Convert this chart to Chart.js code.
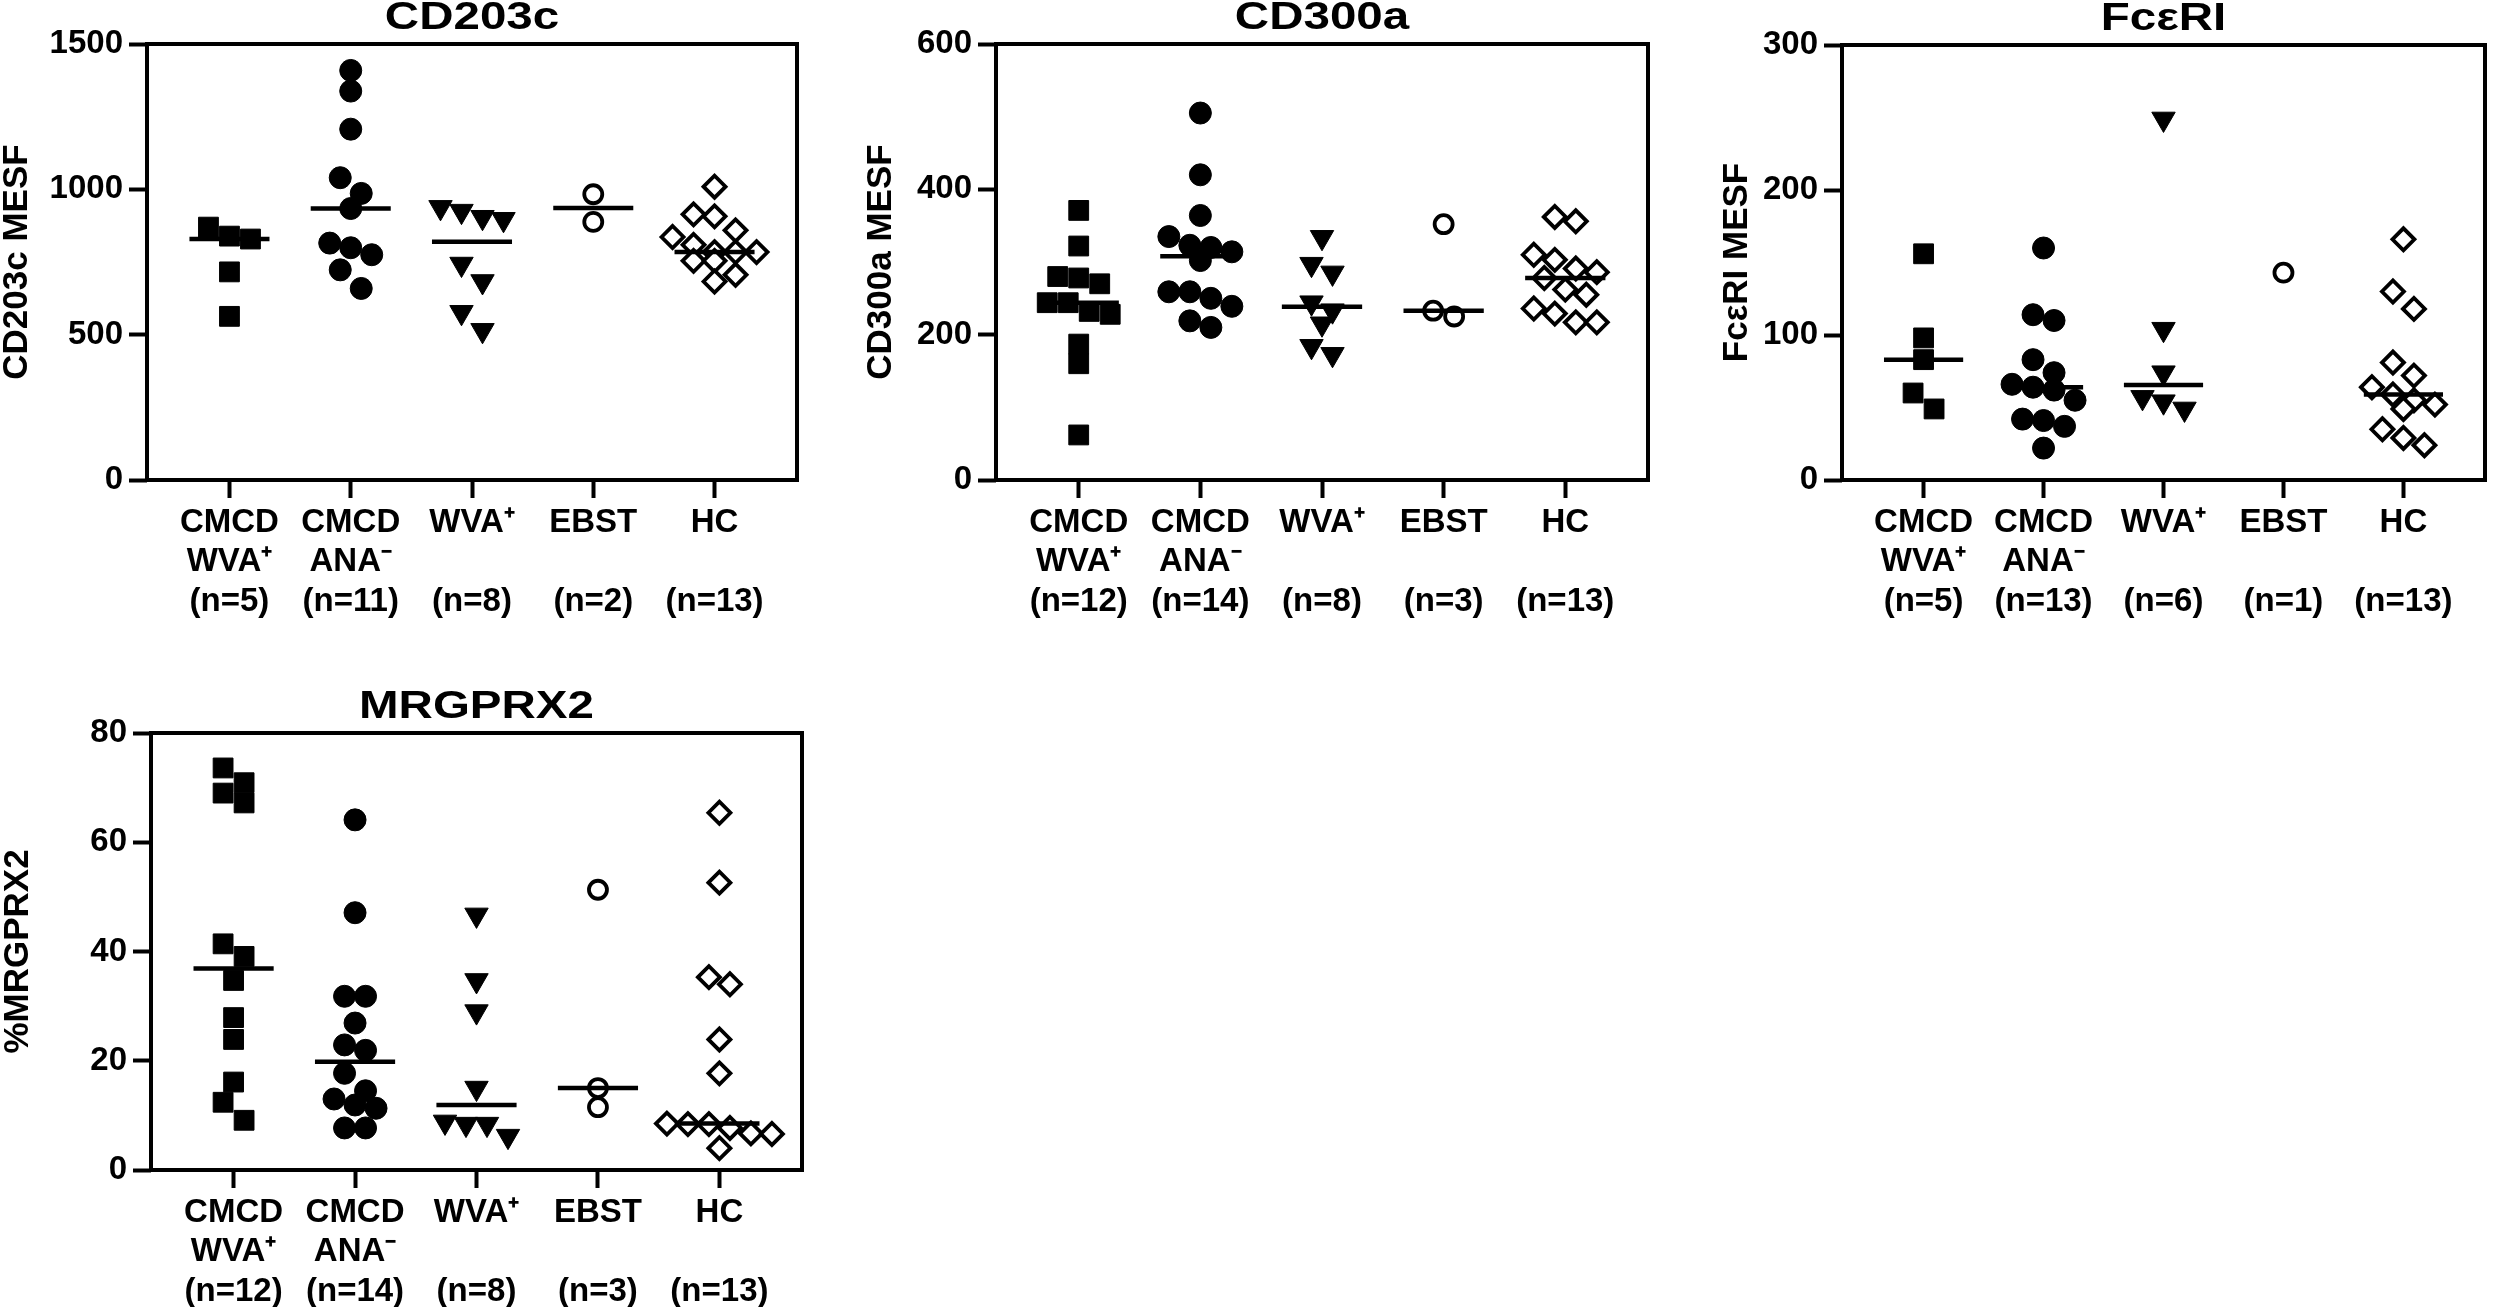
<!DOCTYPE html>
<html>
<head>
<meta charset="utf-8">
<script src="https://cdn.jsdelivr.net/npm/chart.js@4.4.1/dist/chart.umd.min.js"></script>
<style>
html,body{margin:0;padding:0;background:#fff;}
#wrap{position:relative;width:2500px;height:1307px;overflow:hidden;background:#fff;}
canvas{position:absolute;}
</style>
</head>
<body>
<div id="wrap"></div>
<script>
// ---------- DATA ----------
const groupLabels = [["CMCD", "WVA⁺"], ["CMCD", "ANA⁻"], ["WVA⁺"], ["EBST"], ["HC"]];

const cd203cTicks = [0, 500, 1000, 1500];
const cd203cCmcdWva = [870, 839, 829, 716, 563];
const cd203cCmcdAna = [1409, 1338, 1207, 1040, 986, 934, 815, 799, 775, 723, 659];
const cd203cWva = [938, 925, 904, 897, 743, 683, 577, 515];
const cd203cEbst = [983, 888];
const cd203cHc = [1009, 914, 907, 859, 836, 809, 784, 784, 784, 754, 754, 706, 683];

const cd300aTicks = [0, 200, 400, 600];
const cd300aCmcdWva = [371, 322, 280, 278, 270, 244, 244, 232, 228, 187, 160, 62];
const cd300aCmcdAna = [505, 420, 364, 335, 323, 320, 314, 302, 259, 259, 250, 239, 219, 210];
const cd300aWva = [334, 297, 285, 244, 233, 215, 184, 173];
const cd300aEbst = [352, 233, 225];
const cd300aHc = [362, 356, 310, 303, 291, 286, 278, 262, 255, 236, 229, 217, 217];

const fceriTicks = [0, 100, 200, 300];
const fceriCmcdWva = [156, 98, 83, 60, 49];
const fceriCmcdAna = [160, 114, 110, 83, 74, 66, 64, 62, 55, 42, 41, 37, 22];
const fceriWva = [249, 104, 74, 57, 54, 49];
const fceriEbst = [143];
const fceriHc = [166, 130, 118, 81, 72, 64, 59, 55, 52, 49, 35, 29, 24];

const mrgTicks = [0, 20, 40, 60, 80];
const mrgCmcdWva = [73.6, 70.9, 69.0, 67.2, 41.4, 39.1, 34.7, 27.9, 23.9, 16.1, 12.4, 9.1];
const mrgCmcdAna = [64.1, 47.1, 31.8, 31.8, 26.9, 22.9, 21.9, 17.7, 14.5, 13.0, 11.9, 11.3, 7.7, 7.7];
const mrgWva = [46.7, 34.7, 29.0, 15.0, 8.8, 8.4, 8.4, 6.2];
const mrgEbst = [51.3, 15.0, 11.5];
const mrgHc = [65.4, 52.6, 35.3, 34.0, 23.9, 17.7, 8.5, 8.4, 8.4, 7.7, 6.7, 6.6, 4.0];

// ---------- LAYOUT / STYLE ----------
const FONT = "'Liberation Sans', Arial, Helvetica, sans-serif";
const panels = [
  { title: "CD203c", yTitle: "CD203c MESF", ticks: cd203cTicks,
    groups: [cd203cCmcdWva, cd203cCmcdAna, cd203cWva, cd203cEbst, cd203cHc],
    canvas: {left: 0, top: 0, w: 812, h: 650}, area: {left: 147, top: 44, right: 801, bottom: 480} },
  { title: "CD300a", yTitle: "CD300a MESF", ticks: cd300aTicks,
    groups: [cd300aCmcdWva, cd300aCmcdAna, cd300aWva, cd300aEbst, cd300aHc],
    canvas: {left: 864, top: 0, w: 799, h: 650}, area: {left: 996, top: 44, right: 1652, bottom: 480} },
  { title: "FcεRI", yTitle: "FcεRI MESF", ticks: fceriTicks,
    groups: [fceriCmcdWva, fceriCmcdAna, fceriWva, fceriEbst, fceriHc],
    canvas: {left: 1720, top: 0, w: 780, h: 650}, area: {left: 1842, top: 45, right: 2496, bottom: 480} },
  { title: "MRGPRX2", yTitle: "%MRGPRX2", ticks: mrgTicks,
    groups: [mrgCmcdWva, mrgCmcdAna, mrgWva, mrgEbst, mrgHc],
    canvas: {left: 1, top: 660, w: 816, h: 647}, area: {left: 151, top: 733, right: 805, bottom: 1170} }
];

const markerStyles = [
  {pointStyle: 'rect', radius: 14, bg: '#000', border: '#000', bw: 1, rot: 0},
  {pointStyle: 'circle', radius: 11, bg: '#000', border: '#000', bw: 1, rot: 0},
  {pointStyle: 'triangle', radius: 13.5, bg: '#000', border: '#000', bw: 1, rot: 180},
  {pointStyle: 'circle', radius: 9, bg: '#fff', border: '#000', bw: 3.8, rot: 0},
  {pointStyle: 'rectRot', radius: 11, bg: '#fff', border: '#000', bw: 3.8, rot: 0}
];

function median(arr) {
  const s = arr.slice().sort((a, b) => a - b);
  const n = s.length;
  return n % 2 ? s[(n - 1) / 2] : (s[n / 2 - 1] + s[n / 2]) / 2;
}

const framePlugin = {
  id: 'frame',
  beforeDatasetsDraw(chart) {
    const {ctx, chartArea: a} = chart;
    ctx.save();
    ctx.lineWidth = 4;
    ctx.strokeStyle = '#000';
    ctx.lineJoin = 'miter';
    ctx.strokeRect(a.left, a.top, a.right - a.left, a.bottom - a.top);
    ctx.restore();
  }
};

const titlePlugin = {
  id: 'stretchTitle',
  afterDraw(chart, args, opts) {
    const {ctx, chartArea: a} = chart;
    ctx.save();
    ctx.font = 'bold 38px ' + FONT;
    ctx.fillStyle = '#000';
    ctx.textAlign = 'center';
    ctx.textBaseline = 'alphabetic';
    ctx.translate((a.left + a.right) / 2, a.top - 15);
    ctx.scale(1.25, 1);
    ctx.fillText(opts.text, 0, 0);
    ctx.restore();
  }
};

const wrap = document.getElementById('wrap');

function applySwarm(chart, groups) {
  const xs = chart.scales.x, ys = chart.scales.y;
  const unit = xs.getPixelForValue(1) - xs.getPixelForValue(0);
  const D = 21, TOL = 19;
  groups.forEach((vals, g) => {
    const order = vals.map((v, i) => i).sort((a, b) => vals[b] - vals[a]);
    const rows = [];
    let cur = null;
    order.forEach(i => {
      const py = ys.getPixelForValue(vals[i]);
      if (cur && py - cur.py0 < TOL) cur.items.push(i);
      else { cur = {py0: py, items: [i]}; rows.push(cur); }
    });
    const offs = new Array(vals.length).fill(0);
    rows.forEach(r => {
      const k = r.items.length;
      r.items.forEach((i, j) => { offs[i] = (j - (k - 1) / 2) * D / unit; });
    });
    const ds = chart.data.datasets.find(d => d.groupIndex === g);
    ds.data = vals.map((v, i) => ({x: g + offs[i], y: v}));
  });
  chart.update('none');
}

panels.forEach((p, pi) => {
  const c = document.createElement('canvas');
  c.width = p.canvas.w; c.height = p.canvas.h;
  c.style.left = p.canvas.left + 'px'; c.style.top = p.canvas.top + 'px';
  c.style.width = p.canvas.w + 'px'; c.style.height = p.canvas.h + 'px';
  wrap.appendChild(c);

  const yAxisW = p.area.left - p.canvas.left;
  const padTop = p.area.top - p.canvas.top;
  const padRight = p.canvas.left + p.canvas.w - p.area.right;
  const xAxisH = p.canvas.top + p.canvas.h - p.area.bottom;
  const labels = groupLabels.map((gl, g) => {
    const lines = gl.slice();
    while (lines.length < 2) lines.push('');
    lines.push('(n=' + p.groups[g].length + ')');
    return lines;
  });

  const datasets = [];
  p.groups.forEach((vals, g) => {
    if (vals.length < 2) return;
    const m = median(vals);
    datasets.push({
      type: 'scatter', showLine: true, data: [{x: g - 0.33, y: m}, {x: g + 0.33, y: m}],
      borderColor: '#000', borderWidth: 4.5, pointRadius: 0, pointHoverRadius: 0,
      borderCapStyle: 'butt', order: 0
    });
  });
  p.groups.forEach((vals, g) => {
    const s = markerStyles[g];
    datasets.push({
      type: 'scatter', groupIndex: g,
      data: vals.map(v => ({x: g, y: v})),
      pointStyle: s.pointStyle, pointRadius: s.radius, pointHoverRadius: s.radius,
      pointRotation: s.rot, backgroundColor: s.bg, borderColor: s.border,
      pointBackgroundColor: s.bg, pointBorderColor: s.border, pointBorderWidth: s.bw,
      order: 1
    });
  });

  const chart = new Chart(c, {
    type: 'scatter',
    data: {datasets},
    plugins: [framePlugin, titlePlugin],
    options: {
      responsive: false, animation: false, devicePixelRatio: 1,
      layout: {padding: {left: 0, top: padTop, right: padRight, bottom: 0}},
      plugins: {legend: {display: false}, tooltip: {enabled: false}, title: {display: false},
        stretchTitle: {text: p.title}},
      events: [],
      scales: {
        x: {
          type: 'linear', min: -0.68, max: 4.68,
          afterBuildTicks: ax => { ax.ticks = groupLabels.map((_, i) => ({value: i})); },
          afterFit: ax => { ax.height = xAxisH; },
          grid: {display: true, drawOnChartArea: false, drawTicks: true, tickLength: 18, tickWidth: 4, tickColor: '#000'},
          border: {display: false},
          ticks: {
            autoSkip: false, maxRotation: 0, minRotation: 0, padding: 5, color: '#000',
            font: {family: FONT, size: 33, weight: 'bold', lineHeight: 1.2},
            callback: (v) => labels[Math.round(v)]
          }
        },
        y: {
          type: 'linear', min: p.ticks[0], max: p.ticks[p.ticks.length - 1],
          afterBuildTicks: ax => { ax.ticks = p.ticks.map(v => ({value: v})); },
          afterFit: ax => { ax.width = yAxisW; },
          grid: {display: true, drawOnChartArea: false, drawTicks: true, tickLength: 18, tickWidth: 4, tickColor: '#000'},
          border: {display: false},
          ticks: {padding: 6, color: '#000', font: {family: FONT, size: 33, weight: 'bold'},
            callback: v => String(v)},
          title: {display: true, text: p.yTitle, color: '#000', padding: {top: 0, bottom: 0},
            font: {family: FONT, size: 35, weight: 'bold', lineHeight: 1}}
        }
      }
    }
  });
  applySwarm(chart, p.groups);
});
</script>
</body>
</html>
